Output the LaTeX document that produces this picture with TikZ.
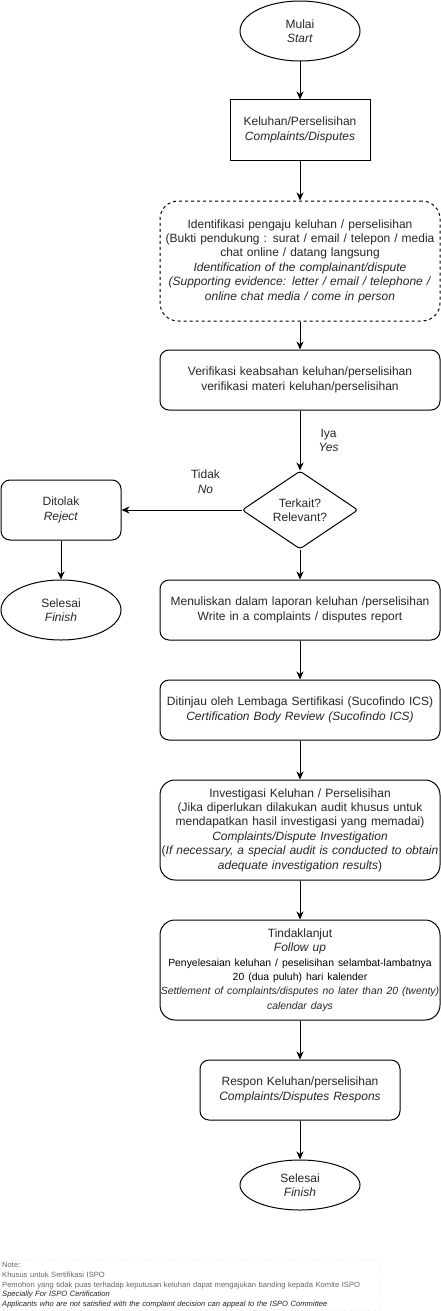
\documentclass[tikz,border=0pt]{standalone}
\usepackage{fontspec}
\setmainfont{Liberation Sans}
\usetikzlibrary{shapes.geometric,arrows.meta}
\newcommand{\bodyfont}{\fontsize{12}{14.4}\selectfont}
\newcommand{\smallfont}{\fontsize{10.4}{13}\selectfont}
\newcommand{\notefont}{\fontsize{7.6}{9.8}\selectfont}
\tikzset{
  every node/.style={font=\bodyfont, inner sep=0pt, align=center, text=black!85},
  flow/.style={draw, line width=1pt, -{Stealth[length=8pt,width=7pt,inset=2.5pt]}},
  termnode/.style={draw, ellipse, line width=1pt, minimum width=120pt, minimum height=60pt},
  plainbox/.style={draw, rectangle, line width=1pt, text width=140pt, minimum height=60pt},
  stepbox/.style={draw, rectangle, rounded corners=9pt, line width=1pt, text width=280pt, minimum height=60pt},
  decnode/.style={draw, diamond, rounded corners=3pt, line width=1pt, minimum width=116pt, minimum height=78pt, aspect=1.5},
  notebox/.style={draw=black!12, dashed, rounded corners=6pt, anchor=north west, minimum width=380pt,
    minimum height=50pt, text width=376pt, inner xsep=2pt, align=left, font=\notefont}
}
\begin{document}
\begin{tikzpicture}[x=1pt,y=-1pt]
  \useasboundingbox (0,0) rectangle (441,1311);
  % main column
  \node (start) at (300,31) [termnode] {Mulai\\\textit{Start}};
  \node (compl) at (300,130) [plainbox] {Keluhan/Perselisihan\\\textit{Complaints/Disputes}};
  \node (ident) at (300,261) [stepbox, dashed, minimum height=120pt, rounded corners=18pt]
    {Identifikasi pengaju keluhan / perselisihan\\(Bukti pendukung : surat / email / telepon / media\\chat online / datang langsung\\
     \textit{Identification of the complainant/dispute}\\\textit{(Supporting evidence: letter / email / telephone /}\\\textit{online chat media / come in person}};
  \node (verif) at (300,380) [stepbox] {Verifikasi keabsahan keluhan/perselisihan\\verifikasi materi keluhan/perselisihan};
  \node (dec) at (300,510) [decnode] {Terkait?\\Relevant?};
  \node (report) at (300,610) [stepbox] {Menuliskan dalam laporan keluhan /perselisihan\\Write in a complaints / disputes report};
  \node (review) at (300,710) [stepbox] {Ditinjau oleh Lembaga Sertifikasi (Sucofindo ICS)\\\textit{Certification Body Review (Sucofindo ICS)}};
  \node (invest) at (300,830) [stepbox, minimum height=100pt, rounded corners=15pt]
    {Investigasi Keluhan / Perselisihan\\(Jika diperlukan dilakukan audit khusus untuk\\mendapatkan hasil investigasi yang memadai)\\
     \textit{Complaints/Dispute Investigation}\\(\textit{If necessary, a special audit is conducted to obtain}\\\textit{adequate investigation results})};
  \node (follow) at (300,970) [stepbox, minimum height=100pt, rounded corners=15pt]
    {Tindaklanjut\\\textit{Follow up}\\{\smallfont\color{black} Penyelesaian keluhan / peselisihan selambat-lambatnya}\\{\smallfont\color{black} 20 (dua puluh) hari kalender}\\
     {\smallfont\itshape Settlement of complaints/disputes no later than 20 (twenty)}\\{\smallfont\itshape calendar days}};
  \node (resp) at (300,1090) [stepbox, text width=200pt] {Respon Keluhan/perselisihan\\\textit{Complaints/Disputes Respons}};
  \node (fin2) at (300,1185) [termnode, minimum height=50pt] {Selesai\\\textit{Finish}};
  % reject branch
  \node (rej) at (61,510) [stepbox, text width=120pt] {Ditolak\\\textit{Reject}};
  \node (fin1) at (61,610) [termnode] {Selesai\\\textit{Finish}};
  % note
  \node (note) at (0,1260) [notebox] {{\color{black!60}Note:}\\{\color{black!60}Khusus untuk Sertifikasi ISPO}\\
    {\color{black!60}Pemohon yang tidak puas terhadap keputusan keluhan dapat mengajukan banding kepada Komite ISPO}\\
    \textit{Specially For ISPO Certification}\\\textit{Applicants who are not satisfied with the complaint decision can appeal to the ISPO Committee}};
  % connectors
  \draw[flow] (start) -- (compl); \draw[flow] (compl) -- (ident); \draw[flow] (ident) -- (verif);
  \draw[flow] (verif) -- node[right=18pt] {Iya\\\textit{Yes}} (dec);
  \draw[flow] (dec) -- node[above=16pt, xshift=24pt] {Tidak\\\textit{No}} (rej);
  \draw[flow] (rej) -- (fin1); \draw[flow] (dec) -- (report); \draw[flow] (report) -- (review);
  \draw[flow] (review) -- (invest); \draw[flow] (invest) -- (follow);
  \draw[flow] (follow) -- (resp); \draw[flow] (resp) -- (fin2);
\end{tikzpicture}
\end{document}
